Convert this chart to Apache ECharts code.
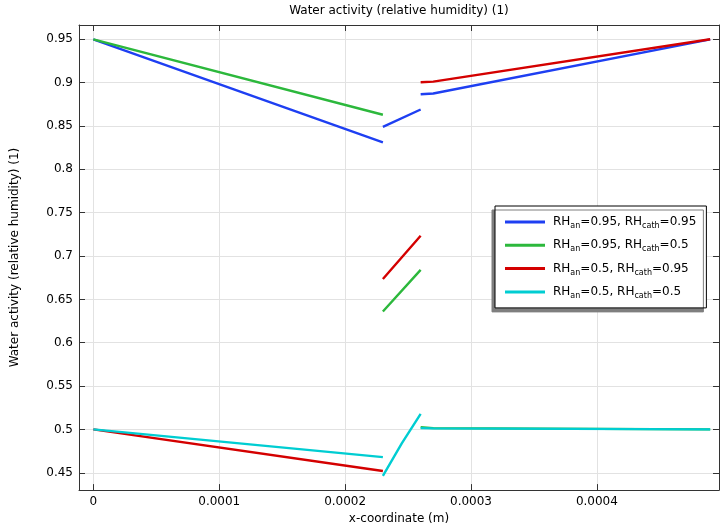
<!DOCTYPE html>
<html><head><meta charset="utf-8">
<script src="https://cdn.jsdelivr.net/npm/echarts@6/dist/echarts.min.js"></script>
<style>html,body{margin:0;padding:0;background:#fff}#c{width:720px;height:530px}</style>
</head><body><div id="c"></div>
<script>
// x positions of the layer segments (m)
const xAnode = [0, 0.00023];
const xMem = [0.00023, 0.00026];
const xMemCyan = [0.00023, 0.000245, 0.00026];
const xCath = [0.00026, 0.00027, 0.00049];

// series values (water activity)
const blueAnode = [0.95, 0.831], blueMem = [0.849, 0.869], blueCath = [0.8866, 0.8875, 0.95];
const greenAnode = [0.95, 0.863], greenMem = [0.636, 0.684], greenCath = [0.5025, 0.5015, 0.5];
const redAnode = [0.5, 0.452], redMem = [0.6735, 0.7233], redCath = [0.9004, 0.9012, 0.95];
const cyanAnode = [0.5, 0.468], cyanMem = [0.4465, 0.4838, 0.518], cyanCath = [0.5015, 0.5012, 0.5];

const seriesNames = ['b', 'g', 'r', 'c'];
const legendLabels = {
  b: ['0.95', '0.95'], g: ['0.95', '0.5'], r: ['0.5', '0.95'], c: ['0.5', '0.5']
};
const colors = ['#1e3ff2', '#2cb83c', '#d40000', '#00cdd2'];

const xTicks = [0, 0.0001, 0.0002, 0.0003, 0.0004];
const yTicks = [0.45, 0.5, 0.55, 0.6, 0.65, 0.7, 0.75, 0.8, 0.85, 0.9, 0.95];

function segs(pairs) {
  const out = [];
  pairs.forEach((p, i) => {
    if (i > 0) out.push(['-', '-']);
    p[0].forEach((x, j) => out.push([x, p[1][j]]));
  });
  return out;
}
const dataSets = [
  segs([[xAnode, blueAnode], [xMem, blueMem], [xCath, blueCath]]),
  segs([[xAnode, greenAnode], [xMem, greenMem], [xCath, greenCath]]),
  segs([[xAnode, redAnode], [xMem, redMem], [xCath, redCath]]),
  segs([[xAnode, cyanAnode], [xMemCyan, cyanMem], [xCath, cyanCath]])
];

const FONT = 'DejaVu Sans';
const xMin = -0.0000114, xMax = 0.000497, yMin = 0.43, yMax = 0.9665;
const frameColor = '#333';
const gridColor = '#e2e2e2';

function fmt(v) { return String(v); }

const chart = echarts.init(document.getElementById('c'), null, {renderer: 'canvas'});
chart.setOption({
  animation: false,
  backgroundColor: '#fff',
  textStyle: {fontFamily: FONT},
  graphic: [{
    type: 'text', x: 399, y: 11,
    style: {text: 'Water activity (relative humidity) (1)', font: '12px "DejaVu Sans"', fill: '#000', align: 'center', verticalAlign: 'middle'}
  }],
  grid: {left: 79, top: 25, right: 1, bottom: 39, containLabel: false},
  xAxis: [{
    type: 'value', min: xMin, max: xMax, position: 'bottom',
    name: 'x-coordinate (m)', nameLocation: 'middle', nameGap: 20,
    nameTextStyle: {fontFamily: FONT, fontSize: 12, color: '#000'},
    axisLine: {show: true, onZero: false, lineStyle: {color: frameColor, width: 1}},
    axisTick: {show: true, inside: true, length: 6, customValues: xTicks, lineStyle: {color: frameColor}},
    axisLabel: {customValues: xTicks, formatter: fmt, fontFamily: FONT, fontSize: 12, color: '#000', margin: 6},
    splitLine: {show: true, lineStyle: {color: gridColor, width: 1}}
  }, {
    type: 'value', min: xMin, max: xMax, position: 'top',
    axisLine: {show: true, onZero: false, lineStyle: {color: frameColor, width: 1}},
    axisTick: {show: true, inside: true, length: 6, customValues: xTicks, lineStyle: {color: frameColor}},
    axisLabel: {show: false, customValues: xTicks},
    splitLine: {show: false}
  }],
  yAxis: [{
    type: 'value', min: yMin, max: yMax, position: 'left',
    name: 'Water activity (relative humidity) (1)', nameLocation: 'middle', nameGap: 58,
    nameTextStyle: {fontFamily: FONT, fontSize: 12, color: '#000'},
    axisLine: {show: true, onZero: false, lineStyle: {color: frameColor, width: 1}},
    axisTick: {show: true, inside: true, length: 6, customValues: yTicks, lineStyle: {color: frameColor}},
    axisLabel: {customValues: yTicks, formatter: fmt, fontFamily: FONT, fontSize: 12, color: '#000', margin: 6},
    splitLine: {show: true, lineStyle: {color: gridColor, width: 1}}
  }, {
    type: 'value', min: yMin, max: yMax, position: 'right',
    axisLine: {show: true, onZero: false, lineStyle: {color: frameColor, width: 1}},
    axisTick: {show: true, inside: true, length: 6, customValues: yTicks, lineStyle: {color: frameColor}},
    axisLabel: {show: false, customValues: yTicks},
    splitLine: {show: false}
  }],
  legend: {
    orient: 'vertical', left: 495, top: 206,
    padding: [10, 10, 8, 10], itemGap: 9.3,
    itemWidth: 40, itemHeight: 3, icon: 'rect',
    backgroundColor: '#fff', borderColor: '#000', borderWidth: 1,
    shadowColor: '#7f7f7f', shadowBlur: 0, shadowOffsetX: -3, shadowOffsetY: 4,
    data: seriesNames,
    formatter: function (n) {
      const l = legendLabels[n];
      return '{g|}{n|RH}{s|an}{n|=' + l[0] + ', RH}{s|cath}{n|=' + l[1] + '}';
    },
    textStyle: {
      fontFamily: FONT, fontSize: 12, color: '#000',
      rich: {
        g: {width: 3},
        n: {fontFamily: FONT, fontSize: 12, color: '#000', lineHeight: 16, verticalAlign: 'middle'},
        s: {fontFamily: FONT, fontSize: 8, color: '#000', lineHeight: 10, verticalAlign: 'bottom'}
      }
    }
  },
  series: seriesNames.map((n, i) => ({
    name: n, type: 'line', xAxisIndex: 0, yAxisIndex: 0,
    data: dataSets[i], showSymbol: false, symbol: 'none', connectNulls: false,
    lineStyle: {color: colors[i], width: 2.4}, itemStyle: {color: colors[i]},
    z: 2 + i
  }))
});
</script></body></html>
